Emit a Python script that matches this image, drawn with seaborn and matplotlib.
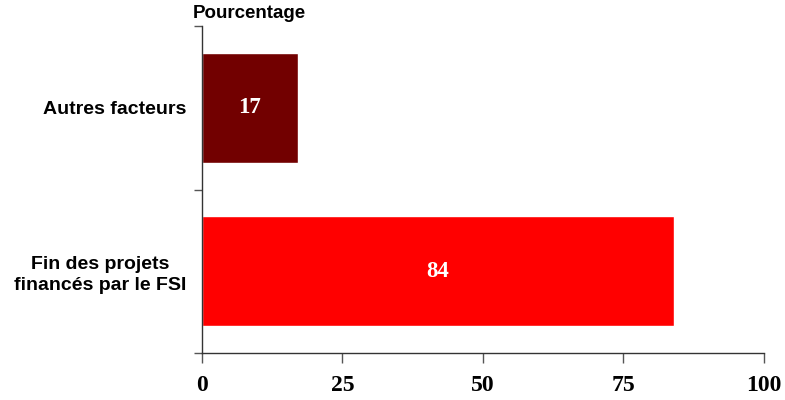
import matplotlib
matplotlib.use("Agg")
import matplotlib.pyplot as plt
import seaborn as sns
import pandas as pd

categories = ["Autres facteurs", "Fin des projets\nfinancés par le FSI"]
values = [17, 84]
colors = ["#720000", "#FF0000"]
x_ticks = [0, 25, 50, 75, 100]

df = pd.DataFrame({"cat": categories, "val": values})

sns.set_theme(style="white")
plt.rcParams["font.family"] = ["Liberation Sans", "DejaVu Sans"]

fig = plt.figure(figsize=(7.85, 4.0), dpi=100)
ax = fig.add_axes([0.2573, 0.1175, 0.7159, 0.8175])

sns.barplot(data=df, x="val", y="cat", hue="cat", palette=colors,
            legend=False, width=0.67, saturation=1, ax=ax, orient="h")

for i, v in enumerate(values):
    ax.text(v / 2, i, str(v), color="white", ha="center", va="center",
            fontsize=16.5, fontweight="bold", family="Liberation Serif")

ax.set_xlim(0, 100)
ax.set_ylim(1.5, -0.5)
ax.set_xticks(x_ticks)
ax.set_xticklabels([str(t) for t in x_ticks], fontsize=17, fontweight="bold",
                   family="Liberation Serif", color="black")
ax.set_yticks([0, 1])
ax.set_yticklabels(categories, fontsize=14, fontweight="bold", color="black",
                   linespacing=1.3)
for lbl in ax.get_yticklabels():
    lbl.set_multialignment("center")
ax.set_yticks([-0.5, 0.5, 1.5], minor=True)
ax.tick_params(axis="y", which="major", length=0, pad=11)
ax.tick_params(axis="y", which="minor", length=6, width=1, color="#555555", left=True)
ax.tick_params(axis="x", which="major", length=7, width=1, color="#555555",
               bottom=True, pad=9)
ax.set_xlabel("")
ax.set_ylabel("")

for s in ["top", "right"]:
    ax.spines[s].set_visible(False)
for s in ["left", "bottom"]:
    ax.spines[s].set_color("#333333")
    ax.spines[s].set_linewidth(1)

fig.text(193 / 785, 1 - 13 / 400, "Pourcentage", fontsize=13.5, fontweight="bold",
         ha="left", va="center", color="black")

fig.savefig("out.png", dpi=100)
